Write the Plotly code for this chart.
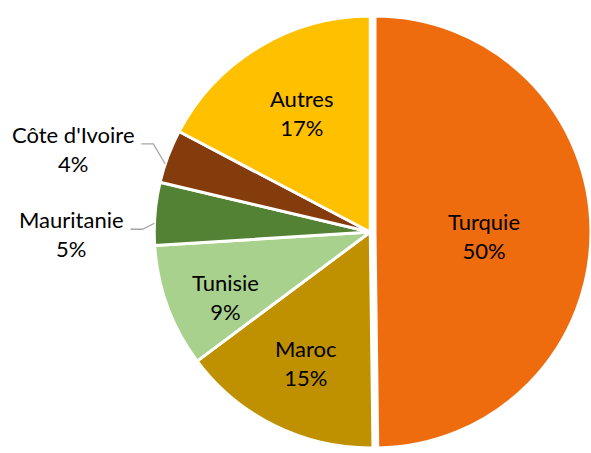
import math
import plotly.graph_objects as go

# ---- data ----
categories = ["Turquie", "Maroc", "Tunisie", "Mauritanie", "Côte d'Ivoire", "Autres"]
values = [49.8, 15.0, 9.2, 4.7, 4.0, 17.3]
colors = ["#EE6C0D", "#BF9000", "#A9D18E", "#548235", "#843C0C", "#FFC000"]
outside_labels = ["Mauritanie", "Côte d'Ivoire"]

# ---- layout geometry ----
W, H = 591, 453
DX = [0.253, 1.0]
DY = [0.0, 0.9757]
PULL = 0.022
pulls = [PULL if c == "Turquie" else 0 for c in categories]
FONT = dict(family="Lato", size=22, color="black")

# inside label placement: radial fraction of radius, angular nudge (deg)
label_r = {"Turquie": 0.505, "Maroc": 0.675, "Tunisie": 0.735, "Autres": 0.635}
label_da = {"Turquie": 2.5, "Maroc": 0.0, "Tunisie": -4.0, "Autres": 1.0}

cx = (DX[0] + DX[1]) / 2 * W
cy = (1 - (DY[0] + DY[1]) / 2) * H
R = min((DX[1] - DX[0]) * W, (DY[1] - DY[0]) * H) / 2
r = R / (1 + PULL)

total = sum(values)


def px_to_paper(x, y):
    return x / W, 1 - y / H


fig = go.Figure(
    go.Pie(
        labels=categories,
        values=values,
        sort=False,
        direction="clockwise",
        rotation=0,
        pull=pulls,
        marker=dict(colors=colors, line=dict(color="white", width=3)),
        textinfo="none",
        domain=dict(x=DX, y=DY),
        showlegend=False,
        hoverinfo="label+percent",
    )
)

annotations = []
shapes = []
cum = 0.0
for c, v in zip(categories, values):
    start = cum / total * 360
    end = (cum + v) / total * 360
    cum += v
    mid = (start + end) / 2
    pct = round(v / total * 100)
    text = f"{c}<br>{pct}%"
    pull_px = (PULL if c == "Turquie" else 0) * r
    ox = cx + pull_px * math.sin(math.radians(mid))
    oy = cy - pull_px * math.cos(math.radians(mid))
    if c in outside_labels:
        a = math.radians(start + 0.35 * (end - start))
        tx = ox + r * math.sin(a)
        ty = oy - r * math.cos(a)
        dy = -20 if c == "Côte d'Ivoire" else 6
        ex, ey = tx - 12, ty + dy
        hx = ex - 12
        p0 = px_to_paper(tx, ty)
        p1 = px_to_paper(ex, ey)
        p2 = px_to_paper(hx, ey)
        shapes.append(dict(
            type="path", xref="paper", yref="paper",
            path=f"M {p0[0]},{p0[1]} L {p1[0]},{p1[1]} L {p2[0]},{p2[1]}",
            line=dict(color="#A6A6A6", width=1.3),
        ))
        lx, ly = px_to_paper(hx - 4, ey + 5)
        annotations.append(dict(
            x=lx, y=ly, xref="paper", yref="paper", text=text,
            showarrow=False, xanchor="right", yanchor="middle",
            align="center", font=FONT,
        ))
    else:
        d = label_r[c] * r
        ang = math.radians(mid + label_da[c])
        lx = ox + d * math.sin(ang)
        ly = oy - d * math.cos(ang)
        px_, py_ = px_to_paper(lx, ly)
        annotations.append(dict(
            x=px_, y=py_, xref="paper", yref="paper", text=text,
            showarrow=False, xanchor="center", yanchor="middle",
            align="center", font=FONT,
        ))

fig.update_layout(
    width=W, height=H,
    margin=dict(l=0, r=0, t=0, b=0),
    paper_bgcolor="white",
    plot_bgcolor="white",
    annotations=annotations,
    shapes=shapes,
)

fig.write_html(
    "out.html",
    config={"displayModeBar": False},
    post_script="document.body.style.margin='0';document.body.style.overflow='hidden';",
)
